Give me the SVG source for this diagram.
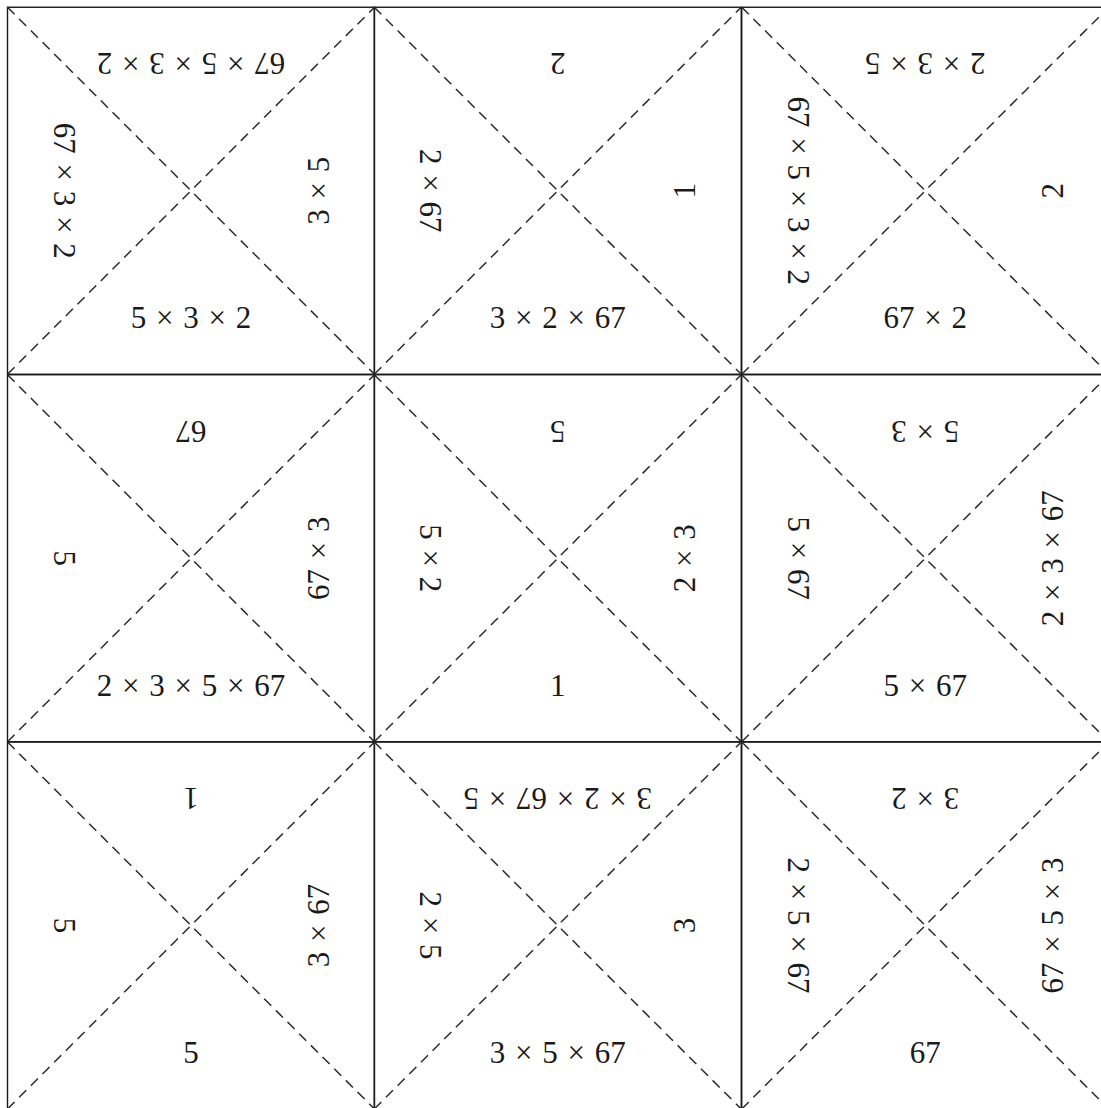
<svg xmlns="http://www.w3.org/2000/svg" width="1101" height="1108" viewBox="0 0 1101 1108">
<style>
.bg{fill:#ffffff}
.edge{stroke:#1a1a1a;stroke-width:1.4;fill:none}
.diag{stroke:#2a2a2a;stroke-width:1.5;stroke-dasharray:10 6.5;fill:none}
text{font-family:"Liberation Serif","DejaVu Serif",serif;font-size:31px;fill:#1a1a1a;text-anchor:middle;word-spacing:2px}
</style>
<defs>
<g id="cellshape">
<rect class="edge" x="-183.5" y="-183.5" width="367" height="367"/>
<line class="diag" x1="-183.5" y1="-183.5" x2="183.5" y2="183.5"/>
<line class="diag" x1="-183.5" y1="183.5" x2="183.5" y2="-183.5"/>
</g>
</defs>
<rect class="bg" x="0" y="0" width="1101" height="1108"/>

<g id="cell-1-1" transform="translate(191,190.75)">
<use href="#cellshape"/>
<text x="0" y="137.5">5 × 3 × 2</text>
<text x="0" y="137.5" transform="rotate(180)">67 × 5 × 3 × 2</text>
<text x="0" y="137.5" transform="rotate(90)">67 × 3 × 2</text>
<text x="0" y="137.5" transform="rotate(-90)">3 × 5</text>
</g>

<g id="cell-1-2" transform="translate(557.75,190.75)">
<use href="#cellshape"/>
<text x="0" y="137.5">3 × 2 × 67</text>
<text x="0" y="137.5" transform="rotate(180)">2</text>
<text x="0" y="137.5" transform="rotate(90)">2 × 67</text>
<text x="0" y="137.5" transform="rotate(-90)">1</text>
</g>

<g id="cell-1-3" transform="translate(925.25,190.75)">
<use href="#cellshape"/>
<text x="0" y="137.5">67 × 2</text>
<text x="0" y="137.5" transform="rotate(180)">2 × 3 × 5</text>
<text x="0" y="137.5" transform="rotate(90)">67 × 5 × 3 × 2</text>
<text x="0" y="137.5" transform="rotate(-90)">2</text>
</g>

<g id="cell-2-1" transform="translate(191,558.25)">
<use href="#cellshape"/>
<text x="0" y="137.5">2 × 3 × 5 × 67</text>
<text x="0" y="137.5" transform="rotate(180)">67</text>
<text x="0" y="137.5" transform="rotate(90)">5</text>
<text x="0" y="137.5" transform="rotate(-90)">67 × 3</text>
</g>

<g id="cell-2-2" transform="translate(557.75,558.25)">
<use href="#cellshape"/>
<text x="0" y="137.5">1</text>
<text x="0" y="137.5" transform="rotate(180)">5</text>
<text x="0" y="137.5" transform="rotate(90)">5 × 2</text>
<text x="0" y="137.5" transform="rotate(-90)">2 × 3</text>
</g>

<g id="cell-2-3" transform="translate(925.25,558.25)">
<use href="#cellshape"/>
<text x="0" y="137.5">5 × 67</text>
<text x="0" y="137.5" transform="rotate(180)">5 × 3</text>
<text x="0" y="137.5" transform="rotate(90)">5 × 67</text>
<text x="0" y="137.5" transform="rotate(-90)">2 × 3 × 67</text>
</g>

<g id="cell-3-1" transform="translate(191,925.5)">
<use href="#cellshape"/>
<text x="0" y="137.5">5</text>
<text x="0" y="137.5" transform="rotate(180)">1</text>
<text x="0" y="137.5" transform="rotate(90)">5</text>
<text x="0" y="137.5" transform="rotate(-90)">3 × 67</text>
</g>

<g id="cell-3-2" transform="translate(557.75,925.5)">
<use href="#cellshape"/>
<text x="0" y="137.5">3 × 5 × 67</text>
<text x="0" y="137.5" transform="rotate(180)">3 × 2 × 67 × 5</text>
<text x="0" y="137.5" transform="rotate(90)">2 × 5</text>
<text x="0" y="137.5" transform="rotate(-90)">3</text>
</g>

<g id="cell-3-3" transform="translate(925.25,925.5)">
<use href="#cellshape"/>
<text x="0" y="137.5">67</text>
<text x="0" y="137.5" transform="rotate(180)">3 × 2</text>
<text x="0" y="137.5" transform="rotate(90)">2 × 5 × 67</text>
<text x="0" y="137.5" transform="rotate(-90)">67 × 5 × 3</text>
</g>
</svg>
